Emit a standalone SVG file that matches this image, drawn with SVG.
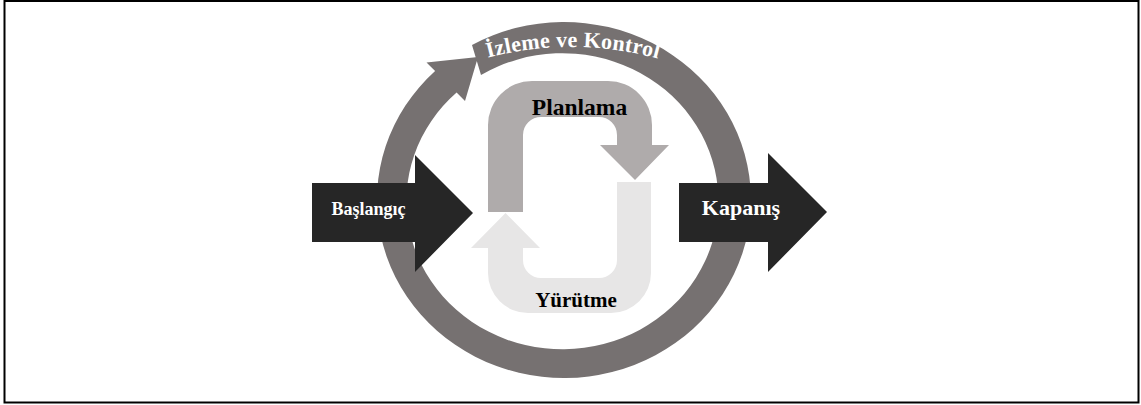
<svg xmlns="http://www.w3.org/2000/svg" width="1141" height="405" viewBox="0 0 1141 405">
<style>
.lbl{font-family:"Liberation Serif","Times New Roman",serif;font-weight:bold}
.wt{fill:#ffffff}
.bk{fill:#000000}
.dark{fill:#262626}
</style>
<defs>
<path id="arcText" d="M 480 59.8 A 330 330 0 0 1 680 65.5"/>
</defs>
<rect x="4.5" y="1" width="1134" height="401.5" fill="#ffffff" stroke="#000000" stroke-width="2"/>
<g id="monitoring">
<path fill="#767171" d="M 472 45 A 187 178 0 1 1 435.1 71 L 426.5 62.5 L 478 57 L 465 101 L 456.6 92.5 A 156 148 0 1 0 481 75 Z"/>
<text class="lbl wt" font-size="22"><textPath href="#arcText" startOffset="8" textLength="172" lengthAdjust="spacing">İzleme ve Kontrol</textPath></text>
</g>
<g id="planning">
<path fill="#AFABAB" d="M 488 212 L 488 125 A 44 44 0 0 1 532 81 L 608 81 A 44 44 0 0 1 652 125 L 652 145 L 669 145 L 635 180 L 600 145 L 617 145 L 617 135 A 18 18 0 0 0 599 117 L 541 117 A 18 18 0 0 0 523 135 L 523 212 Z"/>
<text class="lbl bk" x="579.5" y="115" font-size="23.5" text-anchor="middle">Planlama</text>
</g>
<g id="execution">
<path fill="#E7E6E6" d="M 617 182 L 651 182 L 651 273 A 40 40 0 0 1 611 313 L 528 313 A 40 40 0 0 1 488 273 L 488 248 L 471 248 L 505.5 213 L 540 248 L 523 248 L 523 260 A 18 18 0 0 0 541 278 L 599 278 A 18 18 0 0 0 617 260 Z"/>
<text class="lbl bk" x="576" y="307" font-size="21" text-anchor="middle">Yürütme</text>
</g>
<g id="start">
<path class="dark" d="M 312 183 L 415 183 L 415 155 L 473 213 L 415 272 L 415 242 L 312 242 Z"/>
<text class="lbl wt" x="368.5" y="215" font-size="18" text-anchor="middle">Başlangıç</text>
</g>
<g id="close">
<path class="dark" d="M 679 183 L 768 183 L 768 153 L 827 212 L 768 272 L 768 242 L 679 242 Z"/>
<text class="lbl wt" x="741" y="215" font-size="22" text-anchor="middle">Kapanış</text>
</g>
<g id="connectors"></g>
</svg>
